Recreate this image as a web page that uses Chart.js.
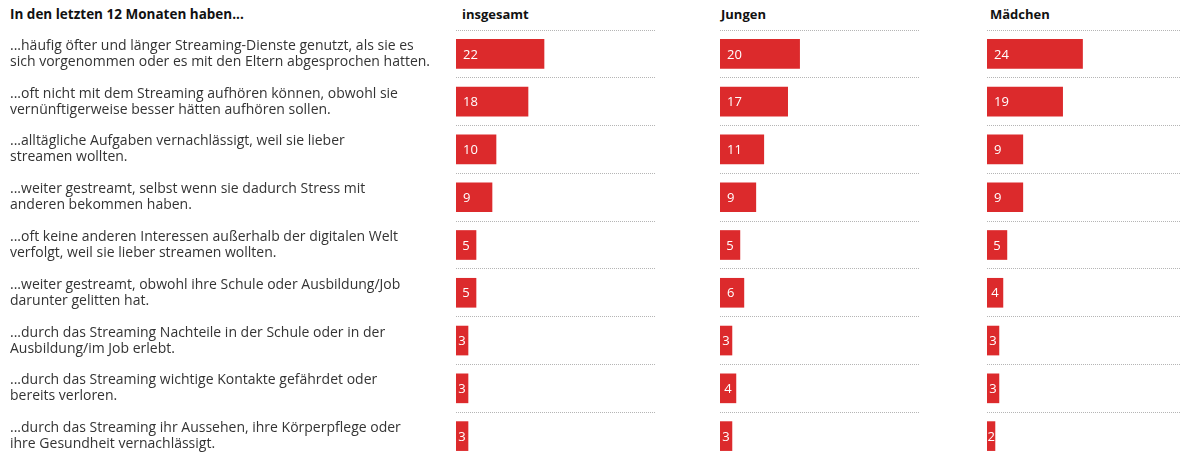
<!DOCTYPE html>
<html><head><meta charset="utf-8">
<script src="https://cdn.jsdelivr.net/npm/chart.js@4/dist/chart.umd.min.js"></script>
<style>
html,body{margin:0;padding:0;background:#fff;width:1181px;height:456px;overflow:hidden;position:relative;font-family:"Open Sans",sans-serif;}
.hd{position:absolute;top:4px;font-weight:bold;font-size:13px;color:#111;line-height:20px;white-space:nowrap;}
canvas{position:absolute;top:0;}
</style></head><body>
<div class="hd" style="left:10px;font-size:13.5px">In den letzten 12 Monaten haben...</div>
<div class="hd" style="left:462px">insgesamt</div>
<div class="hd" style="left:721px">Jungen</div>
<div class="hd" style="left:990px">Mädchen</div>
<canvas id="k1" width="656" height="460" style="left:0px"></canvas>
<canvas id="k2" width="199" height="460" style="left:720px"></canvas>
<canvas id="k3" width="199" height="460" style="left:987px"></canvas>
<script>
const categories = [
  ["...häufig öfter und länger Streaming-Dienste genutzt, als sie es","sich vorgenommen oder es mit den Eltern abgesprochen hatten."],
  ["...oft nicht mit dem Streaming aufhören können, obwohl sie","vernünftigerweise besser hätten aufhören sollen."],
  ["...alltägliche Aufgaben vernachlässigt, weil sie lieber","streamen wollten."],
  ["...weiter gestreamt, selbst wenn sie dadurch Stress mit","anderen bekommen haben."],
  ["...oft keine anderen Interessen außerhalb der digitalen Welt","verfolgt, weil sie lieber streamen wollten."],
  ["...weiter gestreamt, obwohl ihre Schule oder Ausbildung/Job","darunter gelitten hat."],
  ["...durch das Streaming Nachteile in der Schule oder in der","Ausbildung/im Job erlebt."],
  ["...durch das Streaming wichtige Kontakte gefährdet oder","bereits verloren."],
  ["...durch das Streaming ihr Aussehen, ihre Körperpflege oder","ihre Gesundheit vernachlässigt."]
];
const insgesamt = [22, 18, 10, 9, 5, 5, 3, 3, 3];
const jungen    = [20, 17, 11, 9, 5, 6, 3, 4, 3];
const maedchen  = [24, 19, 9, 9, 5, 4, 3, 3, 2];

const RED = '#dc2a2c';
const valueLabels = {
  id: 'valueLabels',
  afterDatasetsDraw(chart) {
    const ctx = chart.ctx;
    const meta = chart.getDatasetMeta(0);
    const data = chart.data.datasets[0].data;
    ctx.save();
    ctx.fillStyle = '#fff';
    ctx.font = '13px "Open Sans", sans-serif';
    ctx.textAlign = 'left';
    ctx.textBaseline = 'middle';
    meta.data.forEach((bar, i) => {
      const txt = String(data[i]);
      const tw = ctx.measureText(txt).width;
      const w = bar.x - bar.base;
      const off = Math.min(7, Math.max(0.5, (w - tw) / 2));
      ctx.fillText(txt, bar.base + off, bar.y + 1);
    });
    ctx.restore();
  }
};

function make(id, values, showLabels) {
  return new Chart(document.getElementById(id), {
    type: 'bar',
    data: { labels: categories, datasets: [{ data: values, backgroundColor: RED, barThickness: 29, borderWidth: 0 }] },
    options: {
      indexAxis: 'y',
      responsive: false,
      maintainAspectRatio: false,
      animation: false,
      events: [],
      layout: { padding: { left: showLabels ? 10 : 0, top: 30, right: 0, bottom: 0 } },
      plugins: { legend: { display: false }, tooltip: { enabled: false }, title: { display: false } },
      scales: {
        x: { display: false, min: 0, max: 50 },
        y: {
          display: true,
          border: { display: false, dash: [1, 1] },
          grid: { offset: true, drawTicks: false, color: '#b5b5b5', lineWidth: 1 },
          ticks: {
            display: showLabels,
            crossAlign: 'far',
            padding: 0,
            color: '#333',
            font: { family: '"Open Sans", sans-serif', size: 14, lineHeight: '16px' }
          },
          afterFit(s) { s.width = showLabels ? 446 : 0; s.paddingTop = 0; s.paddingBottom = 0; }
        }
      }
    },
    plugins: [valueLabels]
  });
}
make('k1', insgesamt, true);
make('k2', jungen, false);
make('k3', maedchen, false);
</script>
</body></html>
